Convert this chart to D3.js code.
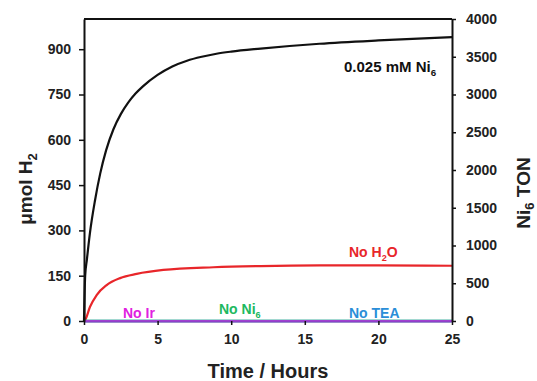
<!DOCTYPE html>
<html><head><meta charset="utf-8">
<script src="https://cdn.jsdelivr.net/npm/d3@7"></script>
<style>body{margin:0;background:#fff}svg{display:block;font-family:"Liberation Sans",Arial,sans-serif;font-weight:bold}</style>
</head><body>
<svg id="c" width="537" height="381"></svg>
<script>
// Data (time in hours, µmol H2)
const ni6Time =  [0, 0.08, 0.2, 0.4, 0.75, 1.1, 1.5, 2.0, 2.5, 3.0, 3.5, 4.0, 5.0, 6.0, 7.0, 8.0, 9.0, 10, 12, 16, 20, 25];
const ni6H2 =    [0, 150, 205, 290, 400, 488, 565, 635, 685, 723, 753, 777, 815, 843, 862, 875, 885, 892, 902, 918, 929, 940];
const noH2OTime = [0, 0.07, 0.41, 0.86, 1.54, 2.45, 3.58, 5.39, 8.8, 12, 16, 20, 25];
const noH2OH2 =   [0, 3, 47, 86, 119, 142, 156, 169, 178, 182, 184, 184, 183];
const flatTime = [0, 25];
const noIrH2 = [0, 0];
const noNi6H2 = [0, 0];
const noTEAH2 = [0, 0];
const xTicks = [0, 5, 10, 15, 20, 25];
const yLeftTicks = [0, 150, 300, 450, 600, 750, 900];
const yRightTicks = [0, 500, 1000, 1500, 2000, 2500, 3000, 3500, 4000];

const svg = d3.select("#c");
const L = 84, R = 452, T = 19, B = 321;
const x = d3.scaleLinear().domain([0, 25]).range([L, R]);
const y = d3.scaleLinear().domain([0, 1000]).range([B, T]);
const y2 = d3.scaleLinear().domain([0, 4000]).range([B, T]);

const line = d3.line().x(d => x(d[0])).y(d => y(d[1]));
function series(t, v, color, w) {
  svg.append("path").datum(t.map((d, i) => [d, v[i]]))
    .attr("d", line.curve(d3.curveMonotoneX)).attr("fill", "none")
    .attr("stroke", color).attr("stroke-width", w);
}
// frame top
svg.append("line").attr("x1", L).attr("x2", R).attr("y1", T).attr("y2", T).attr("stroke", "#111").attr("stroke-width", 2);

series(noH2OTime, noH2OH2, "#e8262a", 2.2);
series(flatTime, noTEAH2, "#2e8fd6", 2.5);
series(flatTime, noNi6H2, "#2cb866", 2.5);
series(flatTime, noIrH2, "#b040d8", 2);
series(ni6Time, ni6H2, "#111", 2.2);

function styleAxis(g) {
  g.selectAll(".domain").attr("stroke", "#111").attr("stroke-width", 2);
  g.selectAll(".tick line").attr("stroke", "#111").attr("stroke-width", 1.5);
  g.selectAll("text").attr("font-size", 14).attr("font-weight", "bold").attr("fill", "#222").attr("font-family", '"Liberation Sans",Arial,sans-serif');
}
const gx = svg.append("g").attr("transform", `translate(0,${B})`)
  .call(d3.axisBottom(x).tickValues(xTicks).tickSize(4).tickPadding(9).tickSizeOuter(0));
styleAxis(gx);
const gy = svg.append("g").attr("transform", `translate(${L},0)`)
  .call(d3.axisLeft(y).tickValues(yLeftTicks).tickSize(5).tickPadding(8).tickSizeOuter(0));
styleAxis(gy);
const gy2 = svg.append("g").attr("transform", `translate(${R},0)`)
  .call(d3.axisRight(y2).tickValues(yRightTicks).tickFormat(d3.format("d")).tickSize(4).tickPadding(10).tickSizeOuter(0));
styleAxis(gy2);
gx.selectAll(".domain").attr("stroke", "#9040c8");

// axis titles
svg.append("text").attr("x", x(12.5)).attr("y", 378).attr("text-anchor", "middle")
  .attr("font-size", 20).attr("fill", "#222").text("Time / Hours");
const lt = svg.append("text").attr("transform", `translate(32,189) rotate(-90)`).attr("text-anchor", "middle")
  .attr("font-size", 19).attr("fill", "#222");
lt.append("tspan").text("μmol H");
lt.append("tspan").attr("font-size", 13).attr("dy", 5).text("2");
const rt = svg.append("text").attr("transform", `translate(530,193) rotate(-90)`).attr("text-anchor", "middle")
  .attr("font-size", 19).attr("fill", "#222");
rt.append("tspan").text("Ni");
rt.append("tspan").attr("font-size", 13).attr("dy", 4).text("6");
rt.append("tspan").attr("dy", -4).text(" TON");

function label(xp, yp, parts, color, size) {
  const t = svg.append("text").attr("x", xp).attr("y", yp).attr("font-size", size).attr("fill", color);
  parts.forEach(p => {
    if (p.sub) t.append("tspan").attr("font-size", size * 0.65).attr("dy", 4).text(p.t);
    else t.append("tspan").attr("dy", p.after ? -4 : 0).text(p.t);
  });
}
label(344, 72, [{t: "0.025 mM Ni"}, {t: "6", sub: true}], "#111", 15);
label(349, 257, [{t: "No H"}, {t: "2", sub: true}, {t: "O", after: true}], "#e8262a", 14);
label(123, 318, [{t: "No Ir"}], "#e020e0", 14);
label(219, 314, [{t: "No Ni"}, {t: "6", sub: true}], "#20b860", 14);
label(349, 318, [{t: "No TEA"}], "#2a8ed8", 14);
</script>
</body></html>
